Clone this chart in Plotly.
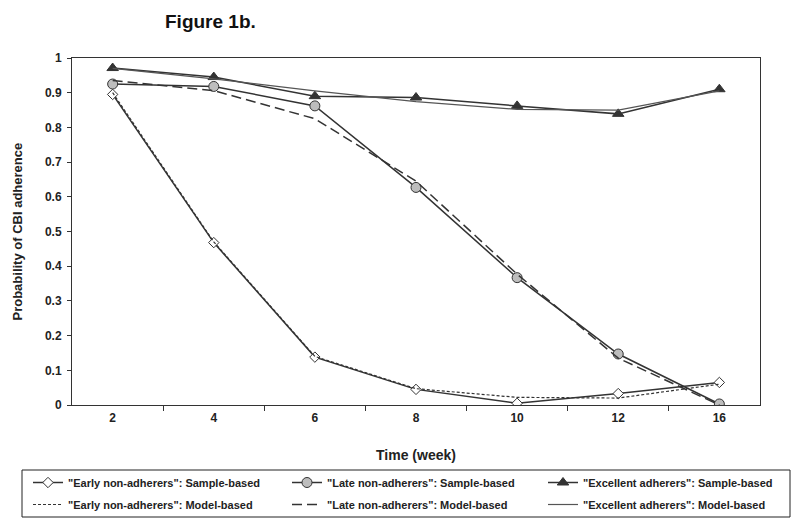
import plotly.graph_objects as go

weeks = ["2", "4", "6", "8", "10", "12", "16"]
early_sample = [0.895, 0.468, 0.138, 0.045, 0.005, 0.033, 0.065]
early_model = [0.900, 0.470, 0.140, 0.047, 0.022, 0.020, 0.060]
late_sample = [0.925, 0.918, 0.862, 0.627, 0.367, 0.147, 0.003]
late_model = [0.935, 0.906, 0.825, 0.645, 0.377, 0.135, 0.000]
excel_sample = [0.971, 0.945, 0.890, 0.886, 0.862, 0.839, 0.910]
excel_model = [0.970, 0.940, 0.905, 0.874, 0.852, 0.850, 0.905]
y_ticks = [0, 0.1, 0.2, 0.3, 0.4, 0.5, 0.6, 0.7, 0.8, 0.9, 1]
y_ticklabels = ["0", "0.1", "0.2", "0.3", "0.4", "0.5", "0.6", "0.7", "0.8", "0.9", "1"]

# the page body has an 8px margin, so the figure is sized to fill the rest
OFF = 8
W, H = 800 - OFF, 524 - OFF
L, T = 72 - OFF, 58 - OFF
R = W - (760 - OFF)
B = H - (405 - OFF)
PW, PH = W - L - R, H - T - B


def px_x(p):
    """screen pixel x -> paper coordinate"""
    return (p - OFF - L) / PW


def px_y(p):
    """screen pixel y -> paper coordinate"""
    return (H - B - (p - OFF)) / PH


dark = "#333333"
fig = go.Figure()

fig.add_trace(go.Scatter(x=weeks, y=early_sample, mode="lines+markers",
                         name='"Early non-adherers": Sample-based', legend="legend",
                         legendgroup="a1",
                         line=dict(color=dark, width=1.5),
                         marker=dict(symbol="diamond", size=8, color="white",
                                     line=dict(color=dark, width=1))))
fig.add_trace(go.Scatter(x=weeks, y=early_model, mode="lines",
                         name='"Early non-adherers": Model-based', legend="legend",
                         legendgroup="a2",
                         line=dict(color=dark, width=1.2, dash="3px,2px")))
fig.add_trace(go.Scatter(x=weeks, y=late_sample, mode="lines+markers",
                         name='"Late non-adherers": Sample-based', legend="legend2",
                         legendgroup="b1",
                         line=dict(color=dark, width=1.5),
                         marker=dict(symbol="circle", size=10, color="#bdbdbd",
                                     line=dict(color=dark, width=1))))
fig.add_trace(go.Scatter(x=weeks, y=late_model, mode="lines",
                         name='"Late non-adherers": Model-based', legend="legend2",
                         legendgroup="b2",
                         line=dict(color=dark, width=1.5, dash="10px,5px")))
fig.add_trace(go.Scatter(x=weeks, y=excel_sample, mode="lines+markers",
                         name='"Excellent adherers": Sample-based', legend="legend3",
                         legendgroup="c1",
                         line=dict(color=dark, width=1.5),
                         marker=dict(symbol="triangle-up", size=10, color=dark,
                                     line=dict(color=dark, width=1))))
fig.add_trace(go.Scatter(x=weeks, y=excel_model, mode="lines",
                         name='"Excellent adherers": Model-based', legend="legend3",
                         legendgroup="c2",
                         line=dict(color="#555555", width=1.2)))

leg_common = dict(orientation="v", xanchor="left", yanchor="top",
                  xref="container", yref="container",
                  y=1 - (484 - 16 - OFF) / H, borderwidth=0, bgcolor="rgba(0,0,0,0)",
                  font=dict(size=11, weight="bold", color="#222222"),
                  tracegroupgap=3, itemwidth=30)

fig.update_layout(
    width=W, height=H,
    paper_bgcolor="white", plot_bgcolor="white",
    margin=dict(l=L, r=R, t=T, b=B, autoexpand=False),
    font=dict(family="Liberation Sans, Arial, sans-serif", color="#222222"),
    showlegend=True,
    legend=dict(x=20 / W, **leg_common),
    legend2=dict(x=279 / W, **leg_common),
    legend3=dict(x=535 / W, **leg_common),
    annotations=[
        dict(text="<b>Figure 1b.</b>", x=px_x(210), y=px_y(OFF + 1),
             xref="paper", yref="paper", xanchor="center", yanchor="top",
             showarrow=False, font=dict(size=19, color="#111111")),
        dict(text="<b>Probability of CBI adherence</b>", x=px_x(17), y=0.5,
             xref="paper", yref="paper", xanchor="center", yanchor="middle",
             textangle=-90, showarrow=False, font=dict(size=13, color="#222222")),
    ],
    shapes=[dict(type="rect", xref="paper", yref="paper",
                 x0=px_x(22), x1=px_x(790), y0=px_y(517), y1=px_y(470),
                 line=dict(color="#222222", width=1), fillcolor="rgba(0,0,0,0)")],
)

fig.update_xaxes(type="category", categoryorder="array", categoryarray=weeks,
                 showline=True, linecolor="#333333", linewidth=1, mirror=True,
                 ticks="outside", tickson="boundaries", ticklen=5, tickcolor="#333333",
                 ticklabelstandoff=2,
                 showgrid=False, tickfont=dict(size=12, weight="bold"),
                 title=dict(text="Time (week)", font=dict(size=14, weight="bold"), standoff=25))
fig.update_yaxes(range=[0, 1], tickvals=y_ticks, ticktext=y_ticklabels,
                 showline=True, linecolor="#333333", linewidth=1, mirror=True,
                 ticks="outside", ticklen=4, tickcolor="#333333", ticklabelstandoff=3,
                 showgrid=False, zeroline=False, tickfont=dict(size=12, weight="bold"))

fig.write_html("out.html")
